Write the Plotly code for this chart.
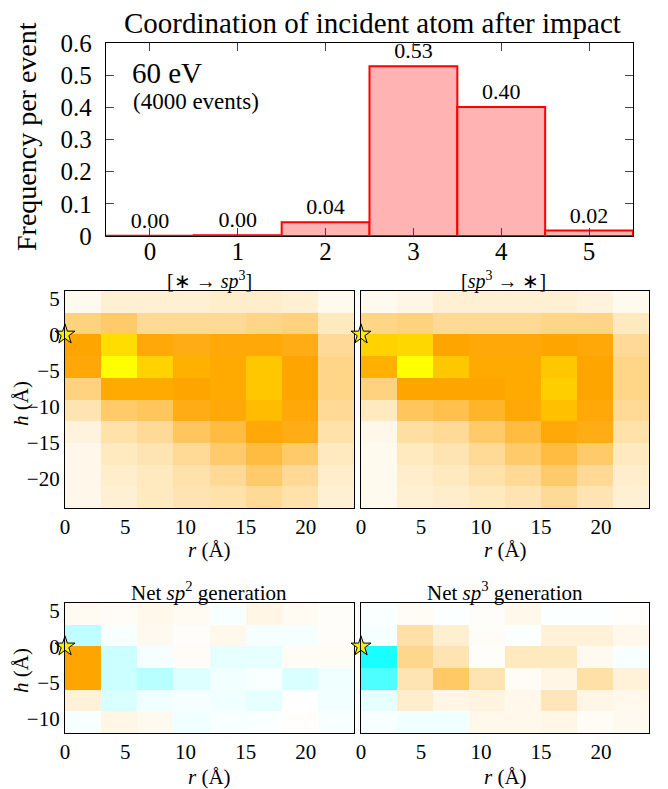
import plotly.graph_objects as go

# ---------------- data ----------------
coordination = [0, 1, 2, 3, 4, 5]
frequency = [0.001, 0.002, 0.043, 0.528, 0.401, 0.017]

r_edges = [0, 3, 6, 9, 12, 15, 18, 21, 24]
h_edges_mid = [6, 3, 0, -3, -6, -9, -12, -15, -18, -21, -24]
h_edges_net = [6, 3, 0, -3, -6, -9, -12]

# [* -> sp3]  rows top (h=6..3) to bottom, columns r=0..24
to_sp3 = [
    [0.04, 0.10, 0.10, 0.10, 0.12, 0.12, 0.10, 0.04],
    [0.30, 0.35, 0.25, 0.25, 0.25, 0.28, 0.30, 0.15],
    [0.60, 0.85, 0.58, 0.55, 0.58, 0.58, 0.55, 0.25],
    [0.58, 1.00, 0.80, 0.65, 0.62, 0.75, 0.60, 0.28],
    [0.30, 0.62, 0.62, 0.60, 0.62, 0.75, 0.60, 0.28],
    [0.18, 0.35, 0.38, 0.55, 0.58, 0.70, 0.58, 0.25],
    [0.08, 0.20, 0.25, 0.38, 0.45, 0.58, 0.55, 0.20],
    [0.05, 0.15, 0.18, 0.25, 0.35, 0.45, 0.35, 0.15],
    [0.05, 0.12, 0.15, 0.20, 0.25, 0.35, 0.25, 0.12],
    [0.05, 0.10, 0.15, 0.18, 0.20, 0.25, 0.20, 0.10],
]
# [sp3 -> *]
from_sp3 = [
    [0.04, 0.06, 0.10, 0.10, 0.10, 0.10, 0.08, 0.04],
    [0.28, 0.30, 0.25, 0.25, 0.25, 0.28, 0.28, 0.15],
    [0.80, 0.82, 0.60, 0.58, 0.58, 0.60, 0.58, 0.25],
    [0.65, 1.00, 0.75, 0.62, 0.62, 0.75, 0.60, 0.28],
    [0.30, 0.60, 0.60, 0.60, 0.62, 0.78, 0.60, 0.28],
    [0.15, 0.38, 0.42, 0.50, 0.58, 0.72, 0.58, 0.25],
    [0.05, 0.22, 0.25, 0.35, 0.45, 0.58, 0.55, 0.20],
    [0.04, 0.15, 0.18, 0.25, 0.35, 0.45, 0.35, 0.15],
    [0.04, 0.12, 0.15, 0.20, 0.25, 0.35, 0.25, 0.12],
    [0.04, 0.10, 0.12, 0.15, 0.18, 0.25, 0.18, 0.10],
]
# Net sp2 generation
net_sp2 = [
    [0.05, 0.03, 0.08, 0.05, -0.03, 0.10, 0.05, 0.02],
    [-0.25, -0.03, 0.06, 0.02, 0.08, -0.04, -0.04, 0.02],
    [1.00, -0.20, -0.04, 0.03, -0.10, -0.10, 0.04, 0.04],
    [1.00, -0.20, -0.28, -0.13, -0.05, -0.03, -0.15, -0.06],
    [0.15, -0.15, -0.06, -0.04, -0.06, -0.10, 0.00, -0.05],
    [-0.03, 0.10, 0.06, -0.06, -0.03, -0.02, 0.01, -0.03],
]
# Net sp3 generation
net_sp3 = [
    [-0.02, 0.04, -0.01, 0.02, 0.08, -0.01, -0.01, 0.01],
    [-0.04, 0.35, 0.18, 0.03, -0.01, 0.15, 0.15, 0.08],
    [-0.90, 0.45, 0.30, 0.02, 0.25, 0.25, 0.06, -0.03],
    [-0.70, 0.30, 0.60, 0.30, 0.04, 0.10, 0.35, 0.15],
    [-0.10, 0.20, 0.10, 0.12, 0.08, 0.28, 0.10, 0.08],
    [-0.03, -0.06, -0.06, 0.08, 0.08, 0.10, 0.04, 0.06],
]
impact_r = [0]
impact_h = [0]

r_ticks = [0, 5, 10, 15, 20]
h_ticks_mid = [5, 0, -5, -10, -15, -20]
h_ticks_net = [5, 0, -5, -10]

# ---------------- helpers ----------------
# the page body has an 8px margin, so the figure is laid out in page pixels minus 8
OFF = 8
W, H = 668 - OFF, 789 - OFF
FONT = "Liberation Serif"


def px_x(a, b):
    return [(a - OFF) / W, (b - OFF) / W]


def px_y(top, bottom):
    return [1 - (bottom - OFF) / H, 1 - (top - OFF) / H]


def centers(edges):
    return [(edges[i] + edges[i + 1]) / 2 for i in range(len(edges) - 1)]


mid_scale = [[0, "#ffffff"], [0.6, "#ffa500"], [1, "#ffff00"]]
net_scale = [[0, "#00ffff"], [0.5, "#ffffff"], [1, "#ffa500"]]

fig = go.Figure()

# top bar chart
fig.add_trace(go.Bar(
    x=coordination, y=frequency, width=1,
    marker=dict(color="#ffb3b3", line=dict(color="#ff0000", width=2)),
    texttemplate="%{y:.2f}", textposition="outside",
    textfont=dict(family=FONT, size=22, color="black"),
    cliponaxis=False, constraintext="none",
    xaxis="x", yaxis="y", showlegend=False,
))

heat_specs = [
    (to_sp3, h_edges_mid, mid_scale, 0, 1, "x2", "y2"),
    (from_sp3, h_edges_mid, mid_scale, 0, 1, "x3", "y3"),
    (net_sp2, h_edges_net, net_scale, -1, 1, "x4", "y4"),
    (net_sp3, h_edges_net, net_scale, -1, 1, "x5", "y5"),
]
for z, hed, cs, zmin, zmax, xa, ya in heat_specs:
    fig.add_trace(go.Heatmap(
        z=z, x=centers(r_edges), y=centers(hed),
        colorscale=cs, zmin=zmin, zmax=zmax, showscale=False,
        xaxis=xa, yaxis=ya, hoverinfo="skip",
    ))
    fig.add_trace(go.Scatter(
        x=impact_r, y=impact_h, mode="markers",
        marker=dict(symbol="star", size=15, color="#ffee00",
                    line=dict(color="black", width=1)),
        cliponaxis=False, xaxis=xa, yaxis=ya, showlegend=False,
    ))

axis_common = dict(showline=True, linecolor="black", linewidth=1.3,
                   mirror=True, showgrid=False, zeroline=False,
                   tickfont=dict(family=FONT, size=21, color="black"))

layout = dict(
    width=W, height=H, margin=dict(l=0, r=0, t=0, b=0),
    template="none", plot_bgcolor="white", paper_bgcolor="white",
    showlegend=False, font=dict(family=FONT, color="black"),
    xaxis=dict(domain=px_x(106, 633), range=[-0.5, 5.5], tickvals=coordination,
               ticks="inside", ticklen=8, mirror="ticks", showline=True,
               linecolor="black", linewidth=1.3, showgrid=False, zeroline=False,
               tickfont=dict(family=FONT, size=25, color="black"),
               ticklabelstandoff=-7, anchor="y"),
    yaxis=dict(domain=px_y(43, 236), range=[0, 0.6], dtick=0.1,
               ticks="inside", ticklen=8, mirror="ticks", showline=True,
               linecolor="black", linewidth=1.3, showgrid=False, zeroline=False,
               tickfont=dict(family=FONT, size=25, color="black"),
               ticklabelstandoff=8, anchor="x"),
)

panel_dom = {
    "2": (px_x(65, 354), px_y(291, 508), h_edges_mid, h_ticks_mid, True),
    "3": (px_x(361, 649), px_y(291, 508), h_edges_mid, h_ticks_mid, False),
    "4": (px_x(65, 354), px_y(603, 733), h_edges_net, h_ticks_net, True),
    "5": (px_x(361, 649), px_y(603, 733), h_edges_net, h_ticks_net, False),
}
for k, (dx, dy, hed, hticks, show_y) in panel_dom.items():
    layout["xaxis" + k] = dict(axis_common, domain=dx, range=[r_edges[0], r_edges[-1]],
                               tickvals=r_ticks, ticks="", anchor="y" + k)
    layout["yaxis" + k] = dict(axis_common, domain=dy, range=[hed[-1], hed[0]],
                               tickvals=hticks, ticks="", showticklabels=show_y,
                               ticklabelstandoff=0, anchor="x" + k)

fig.update_layout(**layout)


def ann(text, x, y, size, xanchor="center", angle=0):
    fig.add_annotation(text=text, x=(x - OFF) / W, y=1 - (y - OFF) / H,
                       xref="paper", yref="paper",
                       xanchor=xanchor, yanchor="middle", showarrow=False,
                       textangle=angle, font=dict(family=FONT, size=size, color="black"))


ann("Coordination of incident atom after impact", 372, 23, 29)
ann("Frequency per event", 26, 137, 28, angle=-90)
ann("60 eV", 130, 73, 29, xanchor="left")
ann("(4000 events)", 131, 101, 23, xanchor="left")
ann("[∗ → <i>sp</i><sup>3</sup>]", 209, 280, 20)
ann("[<i>sp</i><sup>3</sup> → ∗]", 504, 280, 20)
ann("Net <i>sp</i><sup>2</sup> generation", 209, 591, 21)
ann("Net <i>sp</i><sup>3</sup> generation", 505, 591, 21)
ann("<i>h</i> (Å)", 21, 403, 21, angle=-90)
ann("<i>h</i> (Å)", 21, 670, 21, angle=-90)
ann("<i>r</i> (Å)", 209, 550, 21)
ann("<i>r</i> (Å)", 505, 550, 21)
ann("<i>r</i> (Å)", 209, 777, 21)
ann("<i>r</i> (Å)", 505, 777, 21)

fig.write_html("out.html")
